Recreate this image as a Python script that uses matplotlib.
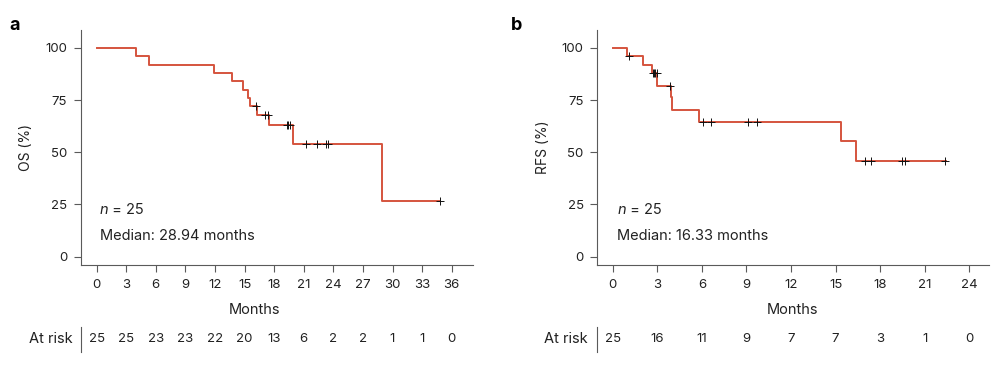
import numpy as np
import matplotlib
matplotlib.use("Agg")
import matplotlib.pyplot as plt

plt.rcParams['font.family'] = ['Inter', 'DejaVu Sans']

# overall survival (panel a)
os_times = [0, 4.0, 5.3, 11.9, 13.7, 14.8, 15.3, 15.6, 16.3, 17.5, 19.9, 28.94, 34.8]
os_surv = [100, 96, 92, 88, 84, 80, 76, 72, 67.8, 62.9, 53.9, 26.9, 26.9]
os_cens = [16.2, 17.1, 17.4, 19.3, 19.45, 19.6, 21.2, 22.3, 23.25, 23.5, 34.8]
os_ticks = [0, 3, 6, 9, 12, 15, 18, 21, 24, 27, 30, 33, 36]
os_risk = [25, 25, 23, 23, 22, 20, 13, 6, 2, 2, 1, 1, 0]

# relapse-free survival (panel b)
rfs_times = [0, 0.94, 2.06, 2.62, 3.0, 3.93, 3.99, 5.81, 15.34, 16.35, 22.4]
rfs_surv = [100, 96, 92, 87.9, 82, 76.4, 70.5, 64.3, 55.3, 46, 46]
rfs_cens = [1.12, 2.69, 2.78, 2.87, 2.96, 3.86, 6.1, 6.6, 9.13, 9.74,
            17.0, 17.4, 19.5, 19.7, 22.36]
rfs_ticks = [0, 3, 6, 9, 12, 15, 18, 21, 24]
rfs_risk = [25, 16, 11, 9, 7, 7, 3, 1, 0]

red = '#d5543e'
grey = '#5a5a5a'
txt = '#222222'

fig = plt.figure(figsize=(10.07, 3.72), dpi=100)


def level_at(times, surv, t):
    i = np.searchsorted(times, t, side='right') - 1
    return surv[i]


def km_panel(ax, times, surv, cens, ticks, risk, ylab, median, xlim,
             months_x, letter_x, risk_lab_x):
    ax.step(times, surv, where='post', color=red, lw=1.4, zorder=2)
    cy = [level_at(times, surv, t) for t in cens]
    ax.plot(cens, cy, '+', color='#111111', ms=6, mew=0.7, zorder=3)

    ax.set_xlim(*xlim)
    ax.set_ylim(-4, 108.6)
    ax.set_xticks(ticks)
    ax.set_yticks([0, 25, 50, 75, 100])
    ax.tick_params(length=5.3, width=0.8, color=grey, labelsize=9.5,
                   labelcolor=txt)
    ax.tick_params(axis='x', pad=5)
    ax.tick_params(axis='y', pad=4.5)
    for s in ['top', 'right']:
        ax.spines[s].set_visible(False)
    for s in ['left', 'bottom']:
        ax.spines[s].set_color(grey)
        ax.spines[s].set_linewidth(0.8)

    ax.set_ylabel(ylab, fontsize=10, color=txt)
    ax.yaxis.set_label_coords(-0.121, 0.5)
    ax.set_xlabel('Months', fontsize=10.5, color=txt)
    ax.xaxis.set_label_coords(months_x, -0.16)

    nt = ax.text(0.3, 22.4, 'n', style='italic', fontsize=10.5, color=txt,
                 va='center')
    ax.annotate(' = 25', xy=(1, 0), xycoords=nt, va='bottom',
                fontsize=10.5, color=txt)
    ax.text(0.3, 9.7, median, fontsize=10.5, color=txt, va='center')

    tr = ax.get_xaxis_transform()
    for t, r in zip(ticks, risk):
        ax.text(t, -0.315, str(r), transform=tr, ha='center', va='center',
                fontsize=9.5, color=txt)
    ax.text(risk_lab_x, -0.315, 'At risk', transform=ax.transAxes,
            ha='right', va='center', fontsize=10.5, color=txt)
    ax.plot([risk_lab_x + 0.022] * 2, [-0.263, -0.369], transform=ax.transAxes,
            color=grey, lw=0.8, clip_on=False)

    fig.text(letter_x, 342 / 372, ax.get_label(), fontsize=13,
             fontweight='bold', ha='left', va='baseline')


ax1 = fig.add_axes([0.0801, 0.2876, 0.3896, 0.6317], label='a')
km_panel(ax1, os_times, os_surv, os_cens, os_ticks, os_risk, 'OS (%)',
         'Median: 28.94 months', (-1.62, 38.16), 0.444, 9 / 1007, -0.0204)

ax2 = fig.add_axes([0.5931, 0.2876, 0.3893, 0.6317], label='b')
km_panel(ax2, rfs_times, rfs_surv, rfs_cens, rfs_ticks, rfs_risk, 'RFS (%)',
         'Median: 16.33 months', (-1.04, 25.34), 0.499, 511 / 1007, -0.0237)

fig.savefig('out.png', dpi=100)
